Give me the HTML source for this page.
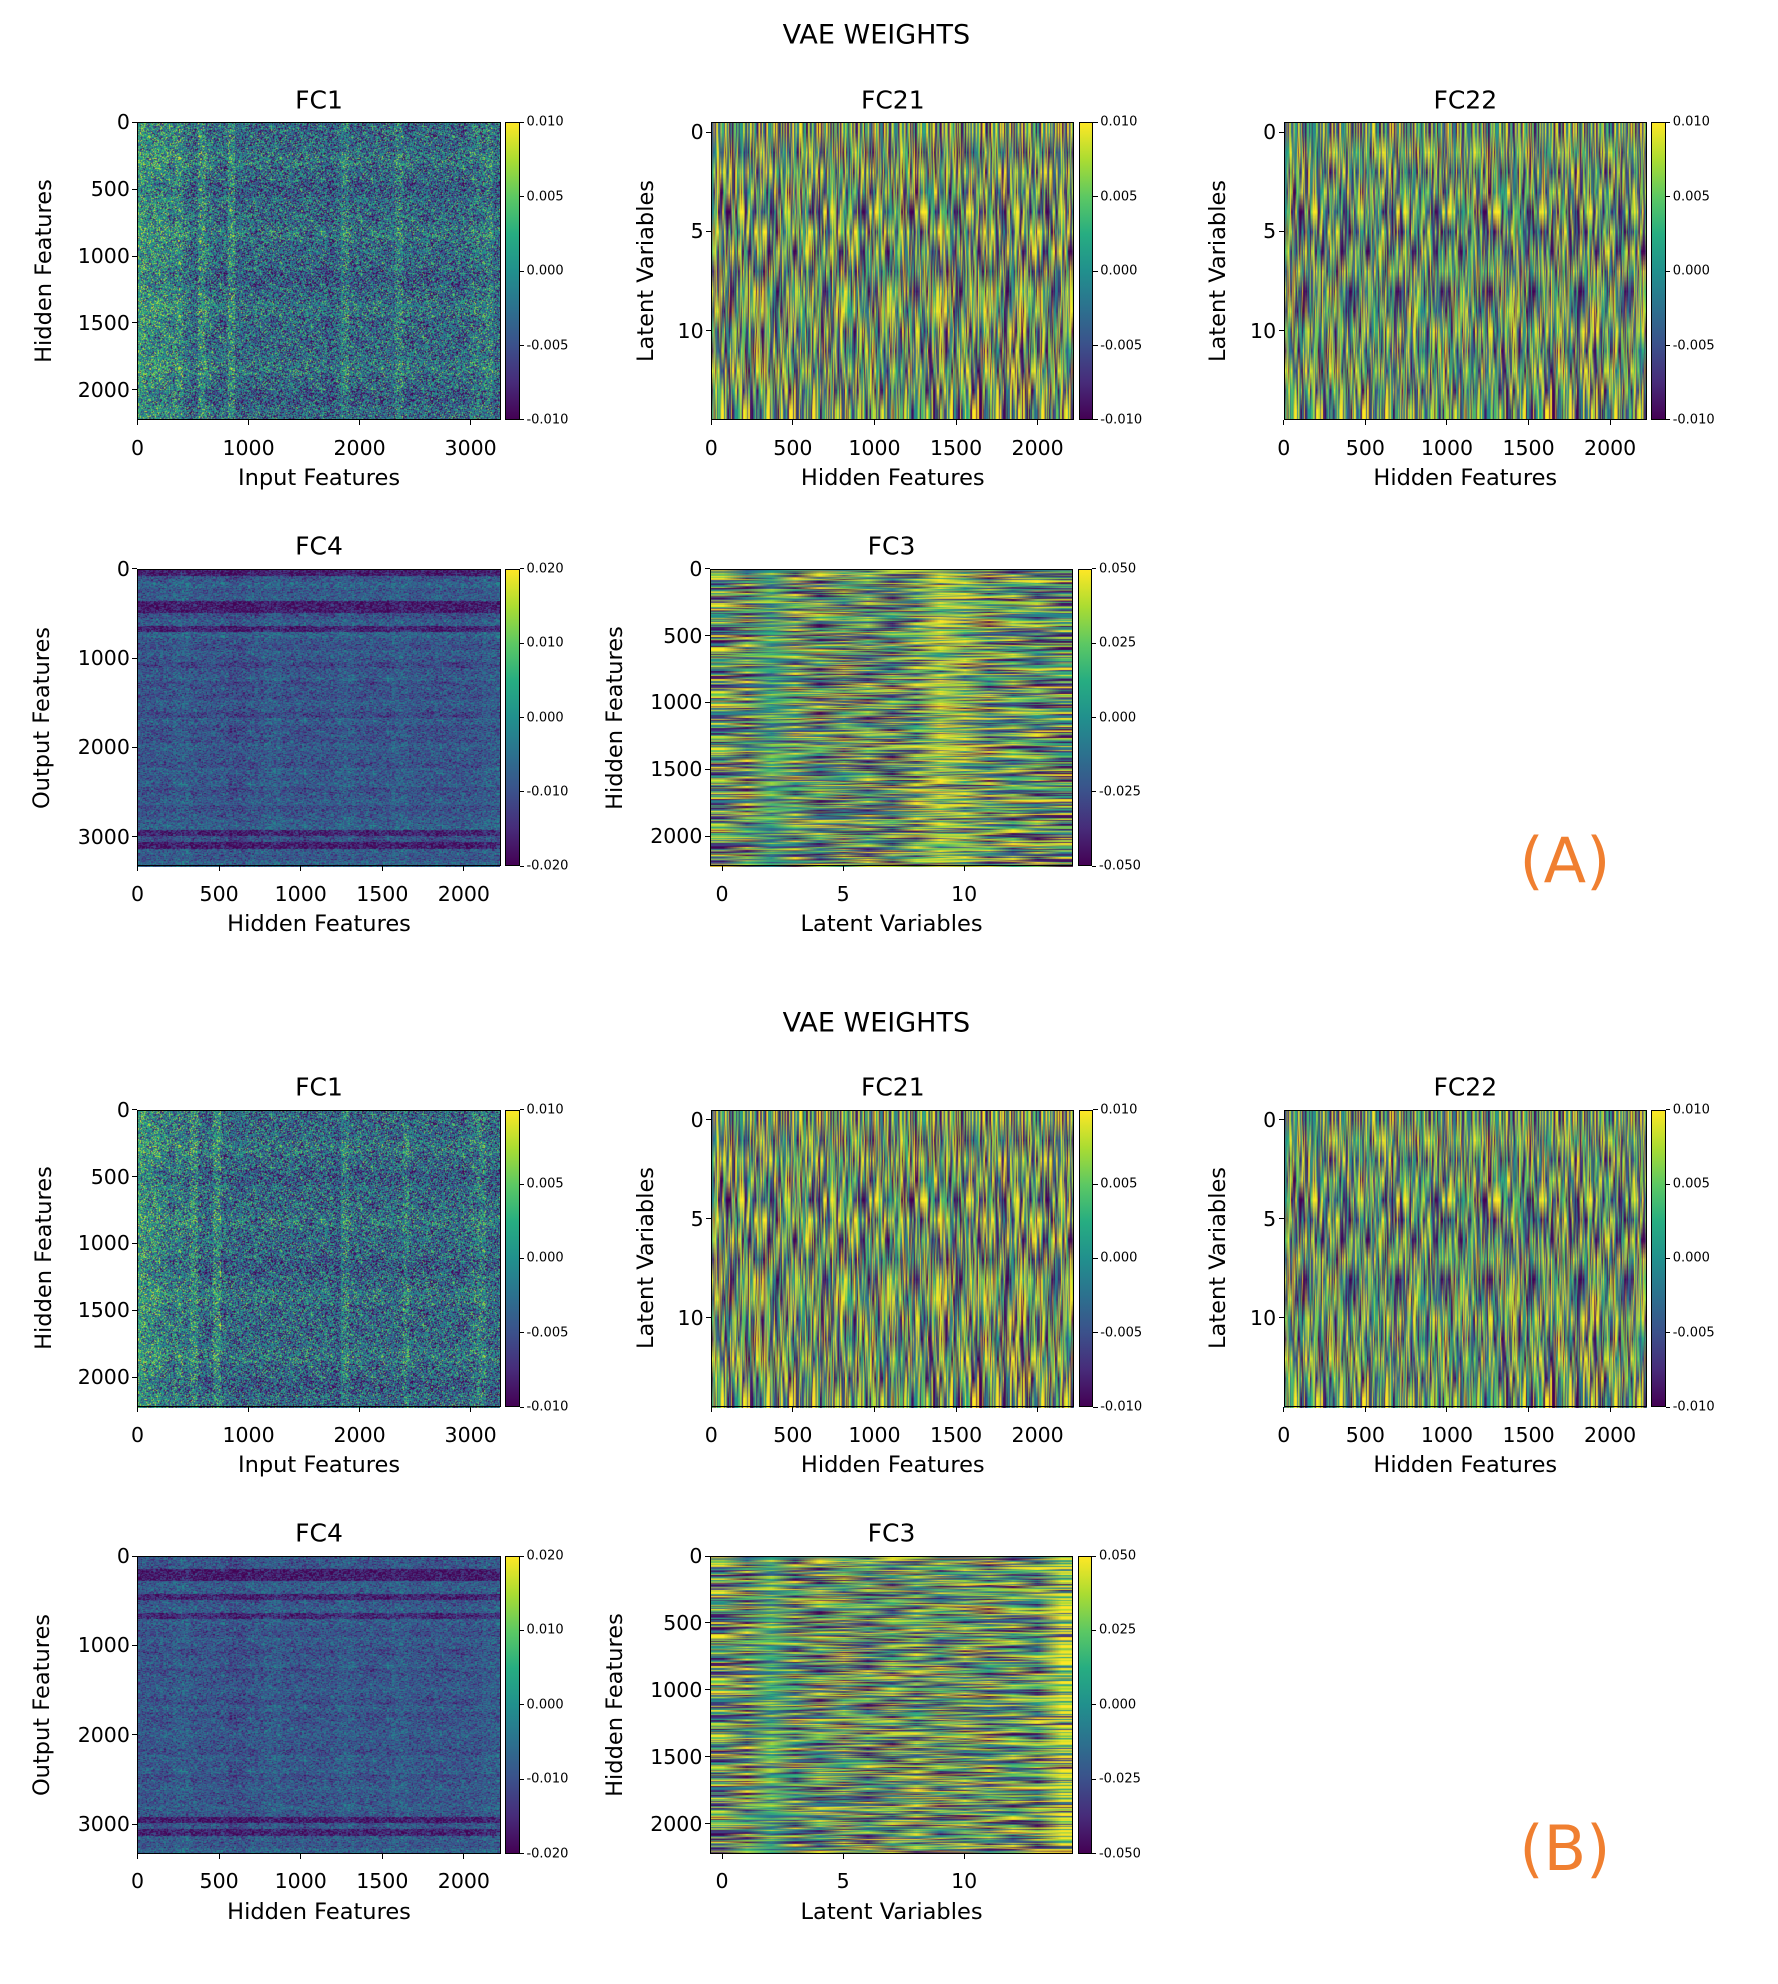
<!DOCTYPE html>
<html><head><meta charset="utf-8">
<style>
html,body{margin:0;padding:0;background:#fff;}
#root{position:relative;width:1778px;height:1984px;overflow:hidden;background:#fff;font-family:"DejaVu Sans","Liberation Sans",sans-serif;color:#000;}
.t{position:absolute;white-space:nowrap;line-height:1;}
.ax{position:absolute;border:1.3px solid #000;box-sizing:border-box;}
canvas{position:absolute;}
.tk{position:absolute;background:#000;}
.cb{position:absolute;border:1.3px solid #000;box-sizing:border-box;background:linear-gradient(to bottom,#fde725,#aadc32,#5cc863,#27ad81,#21908d,#2c718e,#3b518b,#472c7a,#440154);}
</style></head>
<body>
<div id="root"></div>
<script>
// ---- data ----
const texture=[0.8,-0.6,0.1,-0.9,0.5,0.3,-0.2,0.95,-0.75,0.4,-0.1,0.7,-0.5,0.0,0.85,-0.95,0.25,-0.35,0.6,-0.8,0.15,0.9,-0.45,-0.05,0.55,-0.65,0.35,-0.85,0.75,-0.25,0.05,0.65,-0.7,0.45,-0.15,1.0,-1.0,0.2,-0.4,0.5,-0.55,0.3,0.9,-0.3,-0.9,0.1,0.6,-0.6,0.4,-0.2,0.8,-0.5,0.0];
const fc1ColsA=[0.003,0.002,0.002,0.002,0.001,0.002,0.0,-0.001,0.002,0.0,-0.001,-0.001,0.002,-0.001,-0.001,-0.001,-0.001,-0.001,-0.001,-0.001,-0.001,-0.001,-0.001,-0.001,-0.001,-0.002,-0.001,0.001,-0.001,-0.001,-0.001,-0.001,-0.001,-0.001,0.001,-0.001,-0.001,-0.001,-0.001,-0.001,-0.001,-0.001,-0.001,-0.001,0.0,0.0,0.001,-0.001];
const fc1ColsB=[0.003,0.002,0.002,0.001,0.0,0.001,0.0,0.002,-0.001,-0.001,0.002,-0.001,-0.001,-0.001,-0.001,-0.001,-0.001,-0.001,-0.001,-0.001,-0.001,-0.001,-0.001,-0.001,-0.001,-0.001,-0.002,0.001,-0.001,-0.001,-0.001,-0.001,-0.001,-0.001,-0.001,0.001,-0.001,-0.001,-0.001,-0.001,-0.001,-0.001,-0.001,-0.001,0.0,0.001,-0.001,-0.001];
const fc1Rows=[0,0,0.001,0,-0.001,0,0,0.001,0,0,-0.001,0,0.001,0,0,0,0.001,0,-0.001,0];
const fc4RowsA=[-0.014,-0.006,-0.004,-0.006,-0.005,-0.014,-0.014,-0.007,-0.005,-0.013,-0.004,-0.006,-0.007,-0.005,-0.006,-0.008,-0.006,-0.005,-0.007,-0.006,-0.007,-0.005,-0.006,-0.008,-0.005,-0.007,-0.006,-0.007,-0.005,-0.006,-0.006,-0.007,-0.005,-0.006,-0.005,-0.007,-0.006,-0.005,-0.007,-0.006,-0.005,-0.004,-0.013,-0.007,-0.014,-0.005,-0.006,-0.004];
const fc4RowsB=[-0.006,-0.006,-0.014,-0.014,-0.005,-0.005,-0.013,-0.006,-0.005,-0.012,-0.005,-0.006,-0.007,-0.005,-0.006,-0.007,-0.006,-0.005,-0.007,-0.006,-0.006,-0.005,-0.006,-0.007,-0.005,-0.007,-0.006,-0.006,-0.005,-0.006,-0.006,-0.007,-0.005,-0.006,-0.005,-0.007,-0.006,-0.005,-0.006,-0.006,-0.005,-0.006,-0.014,-0.006,-0.013,-0.005,-0.006,-0.004];
const fc4Cols=[0,0,0.001,0,0,-0.001,0,0.001,0,0,0,0.001,0,0,0.001,0,0,0,0,0.001];
const fc21Rows=[0.001,-0.001,0.002,0.0,-0.001,0.002,0.0,-0.002,0.001,0.002,0.0,-0.001,0.001,0.0,0.001];
const fc22Rows=[0.0,0.002,-0.001,0.001,0.0,-0.002,-0.001,0.001,-0.002,0.0,0.002,-0.001,0.001,0.0,0.001];
const fc3ColsA=[0.0,-0.005,0.0,0.005,-0.005,0.0,0.0,-0.01,0.005,0.035,0.02,0.0,0.005,0.0,-0.005];
const fc3ColsB=[0.0,-0.005,0.005,-0.005,0.0,0.005,-0.005,0.0,0.005,0.0,0.005,0.0,0.005,0.0,0.04];
// ---- layout ----
const S=1.261;
const root=document.getElementById('root');
const VIR=[[68,1,84],[71,44,122],[59,81,139],[44,113,142],[33,144,141],[39,173,129],[92,200,99],[170,220,50],[253,231,37]];
function viridis(t){t=Math.max(0,Math.min(1,t));const f=t*8,i=Math.min(7,Math.floor(f)),u=f-i;const a=VIR[i],b=VIR[i+1];return [a[0]+(b[0]-a[0])*u,a[1]+(b[1]-a[1])*u,a[2]+(b[2]-a[2])*u];}
function txt(s,x,y,size,name,opt){const d=document.createElement('div');d.className='t';d.textContent=s;d.style.fontSize=size+'px';d.style.left=(x*S)+'px';d.style.top=(y*S)+'px';
 d.style.transform=(opt&&opt.tr)||'translate(-50%,-50%)';if(opt&&opt.color)d.style.color=opt.color;
 
 
 root.appendChild(d);return d;}
function tick(x,y,w,h,name){const d=document.createElement('div');d.className='tk';d.style.left=(x*S)+'px';d.style.top=(y*S)+'px';d.style.width=(w*S)+'px';d.style.height=(h*S)+'px';
 
 
 root.appendChild(d);}
const TL=texture.length;
function tex(r,c){
 const a=texture[(r*29+c*11+((r*7+3)*(c*5+1))%TL)%TL];
 const b=texture[(r*13+c*31+((r*r+c*3)%17))%TL];
 return (a+b*0.6)/1.3;
}
function panel(p){
 const x0=p.x0,x1=p.x0+288,y0=p.y0,y1=p.y0+236;
 const xs=v=>x0+(v-p.xd[0])/(p.xd[1]-p.xd[0])*(x1-x0);
 const ys=v=>y0+(v-p.yd[0])/(p.yd[1]-p.yd[0])*(y1-y0);
 const cv=document.createElement('canvas');cv.width=Math.round(288*S);cv.height=Math.round(236*S);
 cv.style.left=(x0*S)+'px';cv.style.top=(y0*S)+'px';
 
 
 root.appendChild(cv);
 const nr=p.nr,nc=p.nc;const sm=document.createElement('canvas');sm.width=nc;sm.height=nr;const sc=sm.getContext('2d');const img=sc.createImageData(nc,nr);
 for(let r=0;r<nr;r++)for(let c=0;c<nc;c++){
  const rv=p.rows[Math.floor(r*p.rows.length/nr)],cvv=p.cols[Math.floor(c*p.cols.length/nc)];
  const v=p.base+rv+cvv+p.amp*tex(r,c);const col=viridis((v-p.vmin)/(p.vmax-p.vmin));
  const k=(r*nc+c)*4;img.data[k]=col[0];img.data[k+1]=col[1];img.data[k+2]=col[2];img.data[k+3]=255;}
 sc.putImageData(img,0,0);
 const g=cv.getContext('2d');g.imageSmoothingEnabled=!!p.smooth;g.drawImage(sm,0,0,cv.width,cv.height);
 const ax=document.createElement('div');ax.className='ax';ax.style.left=(x0*S)+'px';ax.style.top=(y0*S)+'px';ax.style.width=(288*S)+'px';ax.style.height=(236*S)+'px';
 
 
 root.appendChild(ax);
 txt(p.title,(x0+x1)/2,y0-18,25,p.id+'-title');
 p.xt.forEach(v=>{const x=xs(v);tick(x-0.4,y1,0.8,4,p.id+'-x-tick');txt(String(v),x,y1+22,20.5,p.id+'-x-tick-label');});
 p.yt.forEach(v=>{const y=ys(v);tick(x0-4,y-0.4,4,0.8,p.id+'-y-tick');txt(String(v),x0-6,y,20.5,p.id+'-y-tick-label',{tr:'translate(-100%,-50%)'});});
 txt(p.xl,(x0+x1)/2,y1+46,22.5,p.id+'-x-axis-title');
 txt(p.yl,p.ylx,(y0+y1)/2,22.5,p.id+'-y-axis-title',{tr:'translate(-50%,-50%) rotate(-90deg)'});
 const cbx=x1+3.5;const cb=document.createElement('div');cb.className='cb';cb.style.left=(cbx*S)+'px';cb.style.top=(y0*S)+'px';cb.style.width=(11.5*S)+'px';cb.style.height=(236*S)+'px';
 
 
 root.appendChild(cb);
 p.cbt.forEach(v=>{const y=y1-(v-p.vmin)/(p.vmax-p.vmin)*236;tick(cbx+11.5,y-0.4,3.5,0.8,p.id+'-colorbar-tick');txt(v.toFixed(3),cbx+17,y,13,p.id+'-colorbar-tick-label',{tr:'translate(0,-50%)'});});
}
const cb1=[-0.01,-0.005,0,0.005,0.01],cb4=[-0.02,-0.01,0,0.01,0.02],cb3=[-0.05,-0.025,0,0.025,0.05];
[0,783].forEach((g,gi)=>{
 const L=gi?'b':'a';
 txt('VAE WEIGHTS',695,28+g,27,'figure-title-'+L);
 panel({id:'fc1-'+L,title:'FC1',x0:109,y0:97+g,xd:[-0.5,3270],yd:[-0.5,2225],xt:[0,1000,2000,3000],yt:[0,500,1000,1500,2000],xl:'Input Features',yl:'Hidden Features',ylx:35,
  rows:fc1Rows,cols:gi?fc1ColsB:fc1ColsA,base:-0.0025,amp:0.009,vmin:-0.01,vmax:0.01,nr:300,nc:380,cbt:cb1});
 panel({id:'fc21-'+L,title:'FC21',x0:564,y0:97+g,xd:[-0.5,2225],yd:[-0.5,14.5],xt:[0,500,1000,1500,2000],yt:[0,5,10],xl:'Hidden Features',yl:'Latent Variables',ylx:512,
  rows:fc21Rows,cols:[0],base:0,amp:0.019,vmin:-0.01,vmax:0.01,nr:15,nc:420,smooth:true,cbt:cb1});
 panel({id:'fc22-'+L,title:'FC22',x0:1018,y0:97+g,xd:[-0.5,2225],yd:[-0.5,14.5],xt:[0,500,1000,1500,2000],yt:[0,5,10],xl:'Hidden Features',yl:'Latent Variables',ylx:966,
  rows:fc22Rows,cols:[0],base:0,amp:0.017,vmin:-0.01,vmax:0.01,nr:15,nc:420,smooth:true,cbt:cb1});
 panel({id:'fc4-'+L,title:'FC4',x0:109,y0:451+g,xd:[-0.5,2225],yd:[-0.5,3330],xt:[0,500,1000,1500,2000],yt:[0,1000,2000,3000],xl:'Hidden Features',yl:'Output Features',ylx:33,
  rows:gi?fc4RowsB:fc4RowsA,cols:fc4Cols,base:-0.0035,amp:0.0075,vmin:-0.02,vmax:0.02,nr:300,nc:280,cbt:cb4});
 panel({id:'fc3-'+L,title:'FC3',x0:563,y0:451+g,xd:[-0.5,14.5],yd:[-0.5,2225],xt:[0,5,10],yt:[0,500,1000,1500,2000],xl:'Latent Variables',yl:'Hidden Features',ylx:488,
  rows:[0],cols:gi?fc3ColsB:fc3ColsA,base:0,amp:0.085,vmin:-0.05,vmax:0.05,nr:360,nc:15,smooth:true,cbt:cb3});
 txt(gi?'(B)':'(A)',1241,683+g,62,'panel-label-'+L,{color:'#f07f30'});
});
</script>
</body></html>
